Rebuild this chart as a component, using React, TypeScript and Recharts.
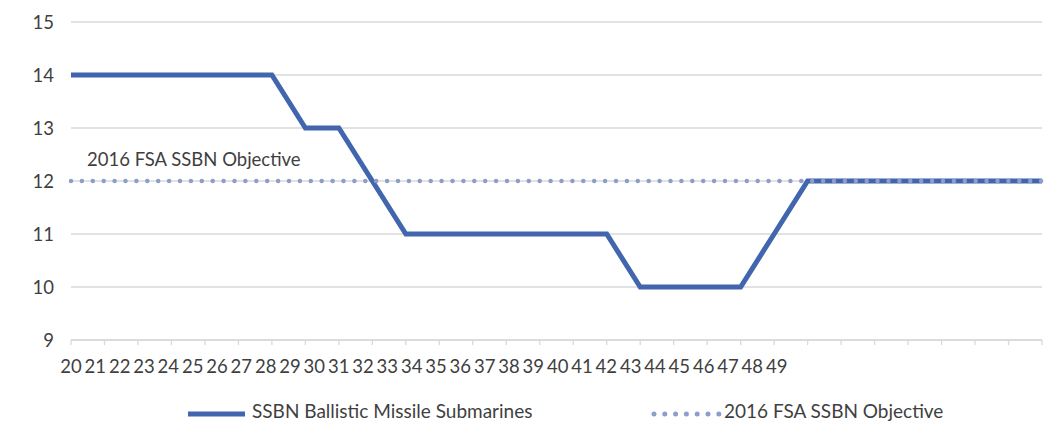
import React from "react";
import { LineChart, Line, XAxis, YAxis, CartesianGrid, Legend } from "recharts";

const years = ["20","21","22","23","24","25","26","27","28","29","30","31","32","33","34","35","36","37","38","39","40","41","42","43","44","45","46","47","48","49"];
const ssbn = [14,14,14,14,14,14,14,13,13,12,11,11,11,11,11,11,11,10,10,10,10,11,12,12,12,12,12,12,12,12];
const objective = [12,12,12,12,12,12,12,12,12,12,12,12,12,12,12,12,12,12,12,12,12,12,12,12,12,12,12,12,12,12];
const yTicks = [9,10,11,12,13,14,15];

const SSBN_NAME = "SSBN Ballistic Missile Submarines";
const OBJ_NAME = "2016 FSA SSBN Objective";

const data = years.map((y, i) => ({ year: y, ssbn: ssbn[i], objective: objective[i] }));

const FONT = "Lato, 'Open Sans', sans-serif";
const TEXT = "#3f3f3f";
const BLUE = "#4166ad";
const DOT = "#8e9dcc";
const GRID = "#d9d9d9";
const FS = 18.5;

const XTick = (props: any) => {
  const { x, y, payload, index } = props;
  return (
    <text x={x - index * 9.15} y={y + 22} textAnchor="middle" dy="0.35em" fill={TEXT} fontSize={FS} fontFamily={FONT}>
      {payload.value}
    </text>
  );
};

const ObjLabel = (props: any) => {
  const { x, y, index } = props;
  if (index !== 0) return null;
  return (
    <text x={x + 16} y={y - 21} dy="0.35em" fill={TEXT} fontSize={FS} fontFamily={FONT} textAnchor="start">
      {OBJ_NAME}
    </text>
  );
};

const LegendContent = () => (
  <div style={{ position: "relative", height: 24, fontFamily: FONT, fontSize: FS + 0.5, color: TEXT }}>
    <svg width={60} height={24} style={{ position: "absolute", left: 180, top: 0 }}>
      <line x1={0} y1={12} x2={57} y2={12} stroke={BLUE} strokeWidth={5} />
    </svg>
    <span style={{ position: "absolute", left: 244, top: -1, lineHeight: "20px", whiteSpace: "nowrap" }}>{SSBN_NAME}</span>
    <svg width={72} height={24} style={{ position: "absolute", left: 642, top: 0 }}>
      <line x1={4} y1={12} x2={70} y2={12} stroke={DOT} strokeWidth={5} strokeDasharray="0 10.8" strokeLinecap="round" />
    </svg>
    <span style={{ position: "absolute", left: 716, top: -1, lineHeight: "20px", whiteSpace: "nowrap" }}>{OBJ_NAME}</span>
  </div>
);

export default function App() {
  return (
    <div style={{ width: 1046, height: 432, fontFamily: FONT }}>
      <LineChart width={1046} height={432} data={data} margin={{ top: 14, right: 12, bottom: 18, left: 0 }}>
        <CartesianGrid vertical={false} stroke={GRID} strokeWidth={1.3} />
        <XAxis
          dataKey="year"
          interval={0}
          height={58}
          tickSize={5}
          tickMargin={0}
          axisLine={{ stroke: GRID, strokeWidth: 1.3 }}
          tickLine={{ stroke: GRID, strokeWidth: 1.3 }}
          tick={<XTick />}
        />
        <YAxis
          domain={[9, 15]}
          ticks={yTicks}
          width={63}
          axisLine={false}
          tickLine={false}
          tickSize={0}
          tickMargin={17}
          tick={{ fill: TEXT, fontSize: FS, fontFamily: FONT }}
        />
        <Legend verticalAlign="bottom" content={<LegendContent />} wrapperStyle={{ left: 0, width: 1046, bottom: 14 }} />
        <Line
          type="linear"
          dataKey="ssbn"
          name={SSBN_NAME}
          stroke={BLUE}
          strokeWidth={5}
          dot={false}
          activeDot={false}
          isAnimationActive={false}
        />
        <Line
          type="linear"
          dataKey="objective"
          name={OBJ_NAME}
          stroke={DOT}
          strokeWidth={4.5}
          strokeDasharray="0 10.9"
          strokeLinecap="round"
          dot={false}
          activeDot={false}
          label={<ObjLabel />}
          isAnimationActive={false}
        />
      </LineChart>
    </div>
  );
}
